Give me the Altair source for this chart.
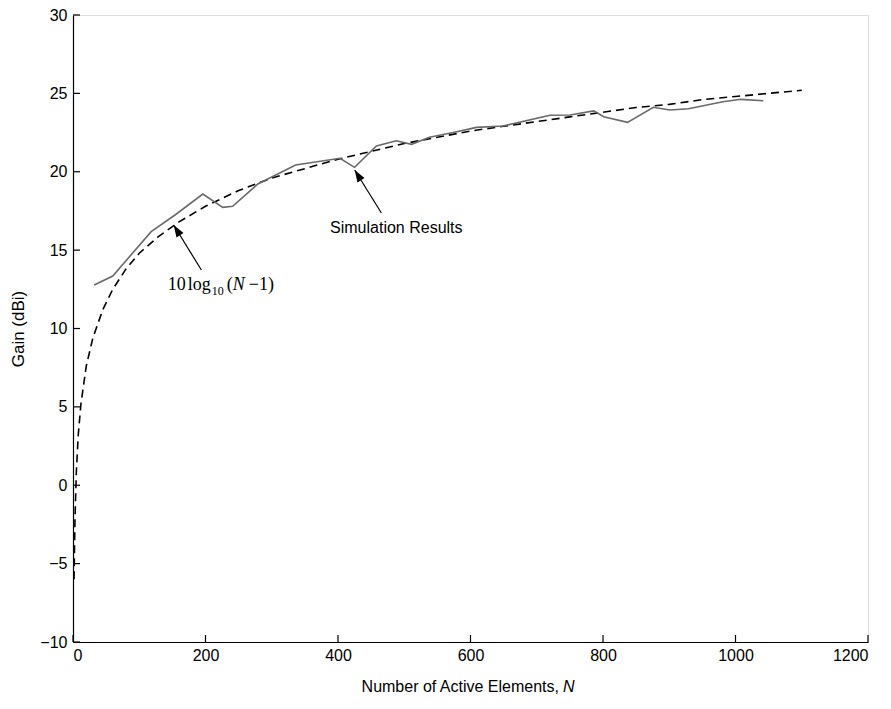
import altair as alt
import pandas as pd

# Simulation results (grey solid line)
sim_n = [32, 60, 118, 154, 196, 226, 241, 279, 336, 403, 425, 458, 488, 511,
         538, 574, 609, 649, 720, 750, 786, 801, 837, 876, 901, 929, 981, 1008, 1042]
sim_gain = [12.78, 13.35, 16.18, 17.24, 18.58, 17.73, 17.80, 19.22, 20.43, 20.86,
            20.28, 21.64, 21.98, 21.75, 22.20, 22.50, 22.83, 22.92, 23.60, 23.62,
            23.88, 23.51, 23.15, 24.11, 23.94, 24.02, 24.47, 24.62, 24.53]

# 10log10(N-1) curve (black dashed line)
theory_n = [1.6, 2.2, 3, 5, 8, 12, 20, 30, 45, 60, 80, 100, 130, 160, 200, 250, 300,
            350, 400, 450, 500, 550, 600, 650, 700, 750, 800, 850, 900, 950, 1000,
            1050, 1100]
theory_gain = [-6.0, -4.2, -2.2, 0.8, 3.25, 5.2, 7.6, 9.4, 11.2, 12.5, 13.8, 14.8,
               15.9, 16.8, 17.8, 18.8, 19.6, 20.2, 20.8, 21.3, 21.8, 22.2, 22.6,
               22.9, 23.2, 23.5, 23.8, 24.1, 24.3, 24.6, 24.8, 25.0, 25.2]

x_ticks = [0, 200, 400, 600, 800, 1000, 1200]
y_ticks = [-10, -5, 0, 5, 10, 15, 20, 25, 30]

# annotation arrows (tail -> tip), in data units
arrow_x = [193.8, 465.5]
arrow_y = [13.73, 17.37]
arrow_x2 = [152.0, 425.2]
arrow_y2 = [16.60, 20.11]
arrow_angle = [328.4, 328.2]

# label anchors, in data units
sim_label_x = [488]
sim_label_y = [16.09]
sim_label_text = ["Simulation Results"]
f_x = 143.0
f_y = 12.45

W, H = 795, 627
FONT = "Liberation Sans"
SERIF = "Liberation Serif"

xscale = alt.Scale(domain=[0, 1200], nice=False, zero=False)
yscale = alt.Scale(domain=[-10, 30], nice=False, zero=False)
xaxis = alt.Axis(values=x_ticks, title=None, ticks=False, grid=False, format="d",
                 domainColor="black", domainWidth=1.2, labelPadding=5,
                 labelFont=FONT, labelFontSize=16, labelColor="black")
yaxis = alt.Axis(values=y_ticks, title="Gain (dBi)", ticks=False, grid=False, format="d",
                 domainColor="black", domainWidth=1.2, labelPadding=6,
                 labelFont=FONT, labelFontSize=16, labelColor="black",
                 titleFont=FONT, titleFontSize=17, titleFontWeight="normal",
                 titleColor="black", titleX=-55, titleY=H / 2, titleAngle=270,
                 titleAlign="center", titleBaseline="middle")


def X(f):
    return alt.X(f, type="quantitative", scale=xscale, axis=xaxis)


def Y(f):
    return alt.Y(f, type="quantitative", scale=yscale, axis=yaxis)


sim_df = pd.DataFrame({"n": sim_n, "g": sim_gain})
th_df = pd.DataFrame({"n": theory_n, "g": theory_gain})
arr_df = pd.DataFrame({"x": arrow_x, "y": arrow_y, "x2": arrow_x2, "y2": arrow_y2,
                       "a": arrow_angle})

theory = alt.Chart(th_df).mark_line(color="black", strokeWidth=1.6,
                                    strokeDash=[8, 5]).encode(x=X("n"), y=Y("g"))
sim = alt.Chart(sim_df).mark_line(color="#6a6a6a", strokeWidth=1.6).encode(
    x=X("n"), y=Y("g"))

arrows = alt.Chart(arr_df).mark_rule(color="black", strokeWidth=1.2).encode(
    x=X("x"), y=Y("y"), x2="x2", y2="y2")
heads = alt.Chart(arr_df).mark_point(
    shape="M0,0L0.55,1.6L-0.55,1.6Z", filled=True, color="black", opacity=1,
    size=225, strokeWidth=0).encode(x=X("x2"), y=Y("y2"),
                                    angle=alt.Angle("a:Q", scale=None))

sim_lbl = alt.Chart(pd.DataFrame({"x": sim_label_x, "y": sim_label_y,
                                  "t": sim_label_text})).mark_text(
    font=FONT, fontSize=16, color="black", align="center", baseline="alphabetic"
).encode(x=X("x"), y=Y("y"), text="t:N")

f_parts = ["10", "log", "10", "(", "N", "\u22121)"]
f_dx = [0, 20, 44, 59, 65, 81]
f_dy = [0, 0, 5, 0, 0, 0]
f_size = [18, 18, 12, 18, 18, 18]
f_style = ["normal", "normal", "normal", "normal", "italic", "normal"]
formula_layers = []
for t, dx, dy, s, st in zip(f_parts, f_dx, f_dy, f_size, f_style):
    formula_layers.append(
        alt.Chart(pd.DataFrame({"x": [f_x], "y": [f_y], "t": [t]})).mark_text(
            font=SERIF, fontSize=s, fontStyle=st, color="black", align="left",
            baseline="alphabetic", dx=dx, dy=dy).encode(x=X("x"), y=Y("y"), text="t:N"))

xt = alt.Chart(pd.DataFrame({"t": x_ticks})).mark_rule(
    color="black", strokeWidth=1.2).encode(x=X("t"), y=alt.value(H), y2=alt.value(H - 7))
yt = alt.Chart(pd.DataFrame({"t": y_ticks})).mark_rule(
    color="black", strokeWidth=1.2).encode(y=Y("t"), x=alt.value(0), x2=alt.value(7))

xt1 = alt.Chart(pd.DataFrame({"t": ["Number of Active Elements,"]})).mark_text(
    font=FONT, fontSize=16, color="black", align="right", baseline="alphabetic"
).encode(x=alt.value(486), y=alt.value(677), text="t:N")
xt2 = alt.Chart(pd.DataFrame({"t": ["N"]})).mark_text(
    font=FONT, fontSize=16, fontStyle="italic", color="black", align="left",
    baseline="alphabetic").encode(x=alt.value(490), y=alt.value(677), text="t:N")

chart = alt.layer(theory, sim, arrows, heads, sim_lbl, *formula_layers, xt, yt,
                  xt1, xt2).properties(
    width=W, height=H,
    autosize=alt.AutoSizeParams(type="none"),
    padding={"left": 65, "top": 7, "right": 12, "bottom": 59},
).configure_view(stroke=None).configure(background="white")

chart.save("out.html", embed_options={"renderer": "svg", "actions": False})
